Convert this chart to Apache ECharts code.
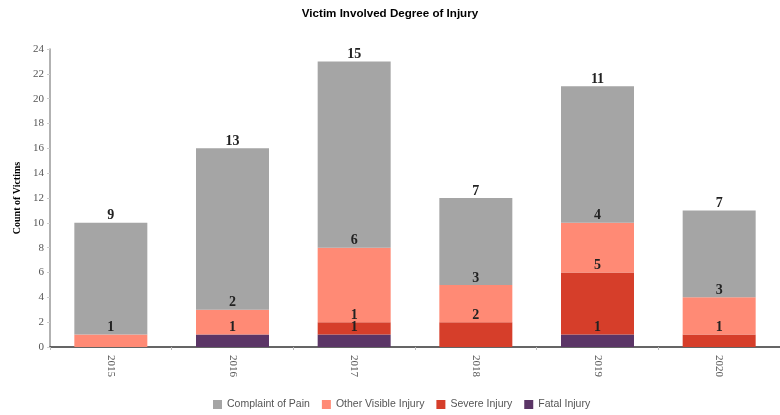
<!DOCTYPE html>
<html>
<head>
<meta charset="utf-8">
<script src="https://cdn.jsdelivr.net/npm/echarts@6/dist/echarts.min.js"></script>
<style>
  html, body { margin: 0; padding: 0; background: #fff; }
  #chart { width: 780px; height: 415px; }
</style>
</head>
<body>
<div id="chart"></div>
<script>
// Victims by year and degree of injury (stacked counts)
const years = ['2015', '2016', '2017', '2018', '2019', '2020'];
const fatalInjury = [0, 1, 1, 0, 1, 0];
const severeInjury = [0, 0, 1, 2, 5, 1];
const otherVisibleInjury = [1, 2, 6, 3, 4, 3];
const complaintOfPain = [9, 13, 15, 7, 11, 7];
const yTicks = { min: 0, max: 24, interval: 2 };

const serif = '"Liberation Serif", "DejaVu Serif", serif';
const sans = '"Liberation Sans", Arial, sans-serif';

function makeSeries(name, values, color) {
  return {
    name: name,
    type: 'bar',
    stack: 'total',
    barWidth: '60%',
    data: values,
    itemStyle: { color: color },
    label: {
      show: true,
      position: 'top',
      distance: 0,
      fontFamily: serif,
      fontWeight: 'bold',
      fontSize: 14,
      color: '#222',
      formatter: p => (p.value > 0 ? String(p.value) : '')
    }
  };
}

const chart = echarts.init(document.getElementById('chart'));
chart.setOption({
  animation: false,
  title: {
    text: 'Victim Involved Degree of Injury',
    left: 'center',
    top: 3,
    textStyle: { fontFamily: sans, fontSize: 11.6, fontWeight: 'bold', color: '#000' }
  },
  legend: {
    data: ['Complaint of Pain', 'Other Visible Injury', 'Severe Injury', 'Fatal Injury'],
    left: 208,
    top: 394,
    itemWidth: 9,
    itemHeight: 9,
    itemGap: 12,
    icon: 'rect',
    textStyle: { fontFamily: sans, fontSize: 10.5, color: '#555' }
  },
  grid: { left: 50, right: 0, top: 49, bottom: 68 },
  xAxis: {
    type: 'category',
    data: years,
    axisLine: { lineStyle: { color: '#333', width: 1.5 } },
    axisTick: { show: true, length: 3, lineStyle: { color: '#bbb' } },
    axisLabel: { rotate: -90, margin: 8, fontFamily: serif, fontSize: 11, color: '#555' }
  },
  yAxis: {
    type: 'value',
    min: yTicks.min,
    max: yTicks.max,
    interval: yTicks.interval,
    name: 'Count of Victims',
    nameLocation: 'middle',
    nameGap: 28,
    nameTextStyle: { fontFamily: serif, fontWeight: 'bold', fontSize: 10, color: '#000' },
    axisLine: { show: true, lineStyle: { color: '#999', width: 1.5 } },
    axisTick: { show: true, length: 3, lineStyle: { color: '#ccc' } },
    axisLabel: { margin: 6, fontFamily: serif, fontSize: 11, color: '#555' },
    splitLine: { show: false }
  },
  series: [
    makeSeries('Fatal Injury', fatalInjury, '#5b3566'),
    makeSeries('Severe Injury', severeInjury, '#d63e2a'),
    makeSeries('Other Visible Injury', otherVisibleInjury, '#ff8a75'),
    makeSeries('Complaint of Pain', complaintOfPain, '#a5a5a5')
  ]
});
</script>
</body>
</html>
